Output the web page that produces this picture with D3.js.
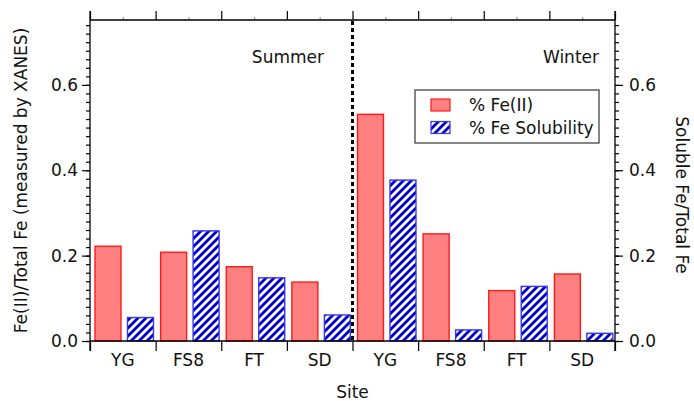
<!DOCTYPE html>
<html>
<head>
<meta charset="utf-8">
<script src="https://cdn.jsdelivr.net/npm/d3@7"></script>
<style>
  html, body { margin: 0; padding: 0; background: #fff; }
  svg { display: block; }
  text { font-family: "DejaVu Sans", Verdana, sans-serif; fill: #111; }
</style>
</head>
<body>
<svg id="chart" width="694" height="401"></svg>
<script>
// ---- data ----
const categories = ["YG", "FS8", "FT", "SD", "YG", "FS8", "FT", "SD"];
const seasons = ["Summer", "Winter"];
const feII = [0.222, 0.208, 0.174, 0.138, 0.531, 0.251, 0.118, 0.157];
const feSolubility = [0.055, 0.258, 0.148, 0.061, 0.377, 0.026, 0.128, 0.018];
const seriesNames = ["% Fe(II)", "% Fe Solubility"];
const yTicks = [0.0, 0.2, 0.4, 0.6];
const yMax = 0.752;

// ---- layout ----
const svg = d3.select("#chart");
const pL = 90, pR = 615, pT = 20, pB = 341;
const fs = 17;

const x = d3.scaleBand().domain(d3.range(categories.length)).range([pL, pR]).padding(0);
const xIn = d3.scaleBand().domain([0, 1]).range([0, x.bandwidth()])
  .paddingInner(0.2).paddingOuter(0.11).align(0.7);
const y = d3.scaleLinear().domain([0, yMax]).range([pB, pT]);
const y2 = d3.scaleLinear().domain([0, yMax]).range([pB, pT]);

// hatch pattern
const defs = svg.append("defs");
const pat = defs.append("pattern").attr("id", "hatch").attr("patternUnits", "userSpaceOnUse")
  .attr("width", 8).attr("height", 8);
pat.append("rect").attr("width", 8).attr("height", 8).attr("fill", "#fff");
pat.append("path").attr("d", "M-2,2 L2,-2 M0,8 L8,0 M6,10 L10,6")
  .attr("stroke", "#0000cc").attr("stroke-width", 2.8);

// bars
const data = categories.map((c, i) => ({ i, c, v: [feII[i], feSolubility[i]] }));
const g = svg.append("g");
data.forEach(d => {
  g.append("rect")
    .attr("x", x(d.i) + xIn(0)).attr("width", xIn.bandwidth())
    .attr("y", y(d.v[0])).attr("height", y(0) - y(d.v[0]))
    .attr("fill", "#ff8080").attr("stroke", "#ff1a1a").attr("stroke-width", 1.4);
  g.append("rect")
    .attr("x", x(d.i) + xIn(1)).attr("width", xIn.bandwidth())
    .attr("y", y2(d.v[1])).attr("height", y2(0) - y2(d.v[1]))
    .attr("fill", "url(#hatch)").attr("stroke", "#3838e8").attr("stroke-width", 1.4);
});

// divider
svg.append("line")
  .attr("x1", x(4)).attr("x2", x(4)).attr("y1", pT + 1).attr("y2", pB)
  .attr("stroke", "#000").attr("stroke-width", 3).attr("stroke-dasharray", "4,3");

// axes
const minor = d3.range(0, yMax + 1e-9, 0.02);
function styleAxis(sel) {
  sel.select(".domain").remove();
  sel.selectAll("line").attr("stroke", "#000").attr("stroke-width", 1.2);
  sel.selectAll("text").attr("font-size", fs).attr("fill", "#111")
     .style("font-family", '"DejaVu Sans", Verdana, sans-serif');
}
svg.append("g").attr("transform", `translate(${pL},0)`)
  .call(d3.axisLeft(y).tickValues(minor).tickSize(4).tickFormat(""))
  .call(styleAxis);
svg.append("g").attr("transform", `translate(${pL},0)`)
  .call(d3.axisLeft(y).tickValues(yTicks).tickSize(8).tickPadding(4).tickFormat(d3.format(".1f")))
  .call(styleAxis);
svg.append("g").attr("transform", `translate(${pR},0)`)
  .call(d3.axisRight(y2).tickValues(minor).tickSize(4).tickFormat(""))
  .call(styleAxis);
svg.append("g").attr("transform", `translate(${pR},0)`)
  .call(d3.axisRight(y2).tickValues(yTicks).tickSize(8).tickPadding(6).tickFormat(d3.format(".1f")))
  .call(styleAxis);

const boundaries = d3.range(categories.length + 1).map(i => pL + i * x.step());
const xb = d3.scaleLinear().domain([pL, pR]).range([pL, pR]);
svg.append("g").attr("transform", `translate(0,${pB})`)
  .call(d3.axisBottom(xb).tickValues(boundaries).tickSize(10).tickFormat(""))
  .call(styleAxis);
svg.append("g").attr("transform", `translate(0,${pB})`)
  .call(d3.axisBottom(x).tickSize(0).tickPadding(13).tickFormat(i => categories[i]))
  .call(styleAxis);
svg.append("g").attr("transform", `translate(0,${pT})`)
  .call(d3.axisTop(xb).tickValues(boundaries).tickSize(9).tickFormat(""))
  .call(styleAxis);
svg.append("g").attr("transform", `translate(0,${pT})`)
  .call(d3.axisTop(xb).tickValues(d3.range(categories.length).map(i => x(i) + x.bandwidth() / 2)).tickSize(3).tickFormat(""))
  .call(styleAxis)
  .selectAll("line").attr("stroke", "#999");

const frame = svg.append("g").attr("stroke", "#000").attr("stroke-width", 1.3);
frame.append("line").attr("x1", pL).attr("x2", pL).attr("y1", pT - 9).attr("y2", pB + 10);
frame.append("line").attr("x1", pR).attr("x2", pR).attr("y1", pT - 9).attr("y2", pB + 10);
frame.append("line").attr("x1", pL).attr("x2", pR).attr("y1", pT).attr("y2", pT);
frame.append("line").attr("x1", pL).attr("x2", pR).attr("y1", pB).attr("y2", pB);

svg.append("text").attr("x", 324).attr("y", 63).attr("text-anchor", "end")
  .attr("font-size", fs).text(seasons[0]);
svg.append("text").attr("x", 599).attr("y", 63).attr("text-anchor", "end")
  .attr("font-size", fs).text(seasons[1]);

svg.append("text").attr("x", (pL + pR) / 2).attr("y", 398).attr("text-anchor", "middle")
  .attr("font-size", fs).text("Site");
svg.append("text").attr("transform", `translate(27,${(pT + pB) / 2}) rotate(-90)`)
  .attr("text-anchor", "middle").attr("font-size", fs)
  .text("Fe(II)/Total Fe (measured by XANES)");
svg.append("text").attr("transform", `translate(676,195) rotate(90)`)
  .attr("text-anchor", "middle").attr("font-size", fs)
  .text("Soluble Fe/Total Fe");

const lg = svg.append("g");
lg.append("rect").attr("x", 415).attr("y", 90).attr("width", 184).attr("height", 53)
  .attr("fill", "#fff").attr("stroke", "#444").attr("stroke-width", 1.3);
const sw = [{ fill: "#ff8080", stroke: "#ff1a1a" }, { fill: "url(#hatch)", stroke: "#3838e8" }];
seriesNames.forEach((n, i) => {
  const yy = 99 + i * 22.5;
  lg.append("rect").attr("x", 431).attr("y", yy).attr("width", 19).attr("height", 12)
    .attr("fill", sw[i].fill).attr("stroke", sw[i].stroke).attr("stroke-width", 1.2);
  lg.append("text").attr("x", 469).attr("y", yy + 12).attr("font-size", fs).text(n);
});
</script>
</body>
</html>
